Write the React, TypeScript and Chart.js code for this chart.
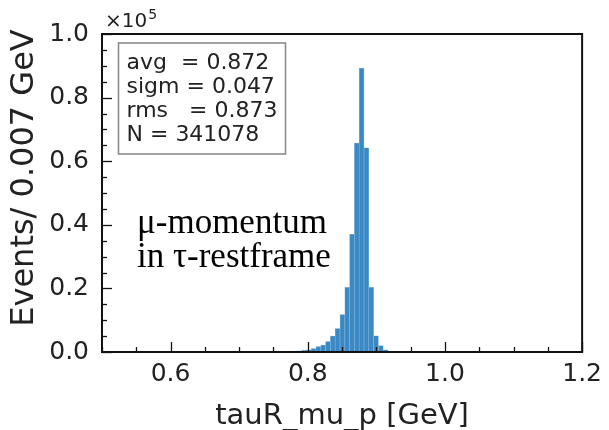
import React, { useEffect, useRef } from "react";
import { Chart, registerables } from "chart.js";

Chart.register(...registerables);

// Bin centers [GeV] (bin width 0.007 GeV)
const binCenters = [
  0.7595, 0.7665, 0.7735, 0.7805, 0.7875, 0.7945, 0.8015, 0.8085, 0.8155, 0.8225,
  0.8295, 0.8365, 0.8435, 0.8505, 0.8575, 0.8645, 0.8715, 0.8785, 0.8855, 0.8925,
  0.8995, 0.9065, 0.9135, 0.9205,
];
// Events per bin
const eventCounts = [
  100, 150, 200, 300, 400, 500, 700, 1100, 1700, 2200,
  3300, 5000, 7400, 11800, 20300, 37000, 65700, 89200, 64200, 20300,
  5100, 2000, 700, 300,
];

const xTicks = [0.6, 0.8, 1.0, 1.2];
const yTicks = [0.0, 0.2, 0.4, 0.6, 0.8, 1.0]; // in units of 1e5
const yScaleFactor = 1e5;

const statsLines = ["avg  = 0.872", "sigm = 0.047", "rms   = 0.873", "N = 341078"];
const annotationLines = ["\u03bc-momentum", "in \u03c4-restframe"];
const xTitle = "tauR_mu_p [GeV]";
const yTitle = "Events/ 0.007 GeV";

const TEXT = "#222222";
const SANS = '"DejaVu Sans", sans-serif';

const decorPlugin = {
  id: "decor",
  afterDraw(chart: any) {
    const { ctx, chartArea: a, scales } = chart;
    const x = scales.x;
    const y = scales.y;
    ctx.save();

    // inward ticks on bottom and left
    ctx.strokeStyle = "#111";
    ctx.lineWidth = 1.3;
    for (let i = 0; i <= 14; i++) {
      const v = 0.5 + i * 0.05;
      const major = i % 4 === 2;
      const px = Math.round(x.getPixelForValue(v)) + 0.5;
      const len = major ? 10 : 5;
      ctx.beginPath();
      ctx.moveTo(px, a.bottom);
      ctx.lineTo(px, a.bottom - len);
      ctx.stroke();
    }
    for (let i = 0; i <= 20; i++) {
      const v = i * 0.05 * yScaleFactor;
      const major = i % 4 === 0;
      const py = Math.round(y.getPixelForValue(v)) + 0.5;
      const len = major ? 10 : 5;
      ctx.beginPath();
      ctx.moveTo(a.left, py);
      ctx.lineTo(a.left + len, py);
      ctx.stroke();
    }

    // frame
    ctx.lineWidth = 2;
    ctx.strokeStyle = "#111";
    ctx.strokeRect(a.left, a.top, a.right - a.left, a.bottom - a.top);

    // x10^5 multiplier
    ctx.fillStyle = TEXT;
    ctx.textAlign = "left";
    ctx.textBaseline = "alphabetic";
    ctx.font = `20px ${SANS}`;
    ctx.fillText("\u00d710", a.left + 3, 27);
    const w = ctx.measureText("\u00d710").width;
    ctx.font = `14px ${SANS}`;
    ctx.fillText("5", a.left + 4 + w, 19);

    // stats box
    const bx = a.left + 16.5;
    const by = a.top + 9;
    const bw = 167;
    const bh = 111;
    ctx.fillStyle = "#ffffff";
    ctx.fillRect(bx, by, bw, bh);
    ctx.strokeStyle = "#8c8c8c";
    ctx.lineWidth = 1.6;
    ctx.strokeRect(bx, by, bw, bh);
    ctx.fillStyle = TEXT;
    ctx.font = `22px ${SANS}`;
    statsLines.forEach((s, i) => {
      ctx.fillText(s, bx + 8, by + 25.5 + i * 24.3);
    });

    // annotation (serif)
    ctx.fillStyle = "#000";
    ctx.font = `35px "Liberation Serif", "Times New Roman", serif`;
    annotationLines.forEach((s, i) => {
      ctx.fillText(s, 137, 233 + i * 34);
    });

    // axis titles
    ctx.fillStyle = TEXT;
    ctx.font = `29px ${SANS}`;
    ctx.textAlign = "center";
    ctx.fillText(xTitle, (a.left + a.right) / 2, 424);

    ctx.save();
    ctx.translate(33, 178);
    ctx.rotate(-Math.PI / 2);
    ctx.font = `32px ${SANS}`;
    ctx.textAlign = "center";
    ctx.fillText(yTitle, 0, 0);
    ctx.restore();

    ctx.restore();
  },
};

export default function App() {
  const canvasRef = useRef<HTMLCanvasElement | null>(null);

  useEffect(() => {
    document.body.style.margin = "0";
    const canvas = canvasRef.current;
    if (!canvas) return;
    const data = binCenters.map((c, i) => ({ x: c, y: eventCounts[i] }));
    const chart = new Chart(canvas, {
      type: "bar",
      data: {
        datasets: [
          {
            data: data as any,
            backgroundColor: "#3a88c4",
            borderColor: "#86b7de",
            borderWidth: 0.6,
            barPercentage: 1,
            categoryPercentage: 1,
          },
        ],
      },
      options: {
        responsive: false,
        maintainAspectRatio: false,
        animation: false,
        devicePixelRatio: 1,
        layout: { padding: { left: 0, right: 22, top: 34, bottom: 0 } },
        plugins: {
          legend: { display: false },
          tooltip: { enabled: false },
          title: { display: false },
        },
        scales: {
          x: {
            type: "linear",
            min: 0.5,
            max: 1.2,
            offset: false,
            grid: { display: false, drawTicks: false, offset: false },
            border: { display: false },
            afterBuildTicks: (s: any) => {
              s.ticks = xTicks.map((v) => ({ value: v }));
            },
            afterFit: (s: any) => {
              s.height = 78;
            },
            ticks: {
              padding: 7,
              color: TEXT,
              font: { family: "DejaVu Sans", size: 25 },
              maxRotation: 0,
              autoSkip: false,
              callback: (v: any) => Number(v).toFixed(1),
            },
          },
          y: {
            type: "linear",
            min: 0,
            max: 1.0 * yScaleFactor,
            grid: { display: false, drawTicks: false },
            border: { display: false },
            afterBuildTicks: (s: any) => {
              s.ticks = yTicks.map((v) => ({ value: v * yScaleFactor }));
            },
            afterFit: (s: any) => {
              s.width = 102;
            },
            ticks: {
              padding: 13,
              color: TEXT,
              font: { family: "DejaVu Sans", size: 25 },
              autoSkip: false,
              callback: (v: any) => (Number(v) / yScaleFactor).toFixed(1),
            },
          },
        },
      },
      plugins: [decorPlugin],
    });
    return () => chart.destroy();
  }, []);

  return (
    <div style={{ position: "absolute", left: 0, top: 0, width: 609, height: 430, background: "#fff" }}>
      <canvas ref={canvasRef} width={609} height={430} style={{ width: 609, height: 430 }} />
    </div>
  );
}
